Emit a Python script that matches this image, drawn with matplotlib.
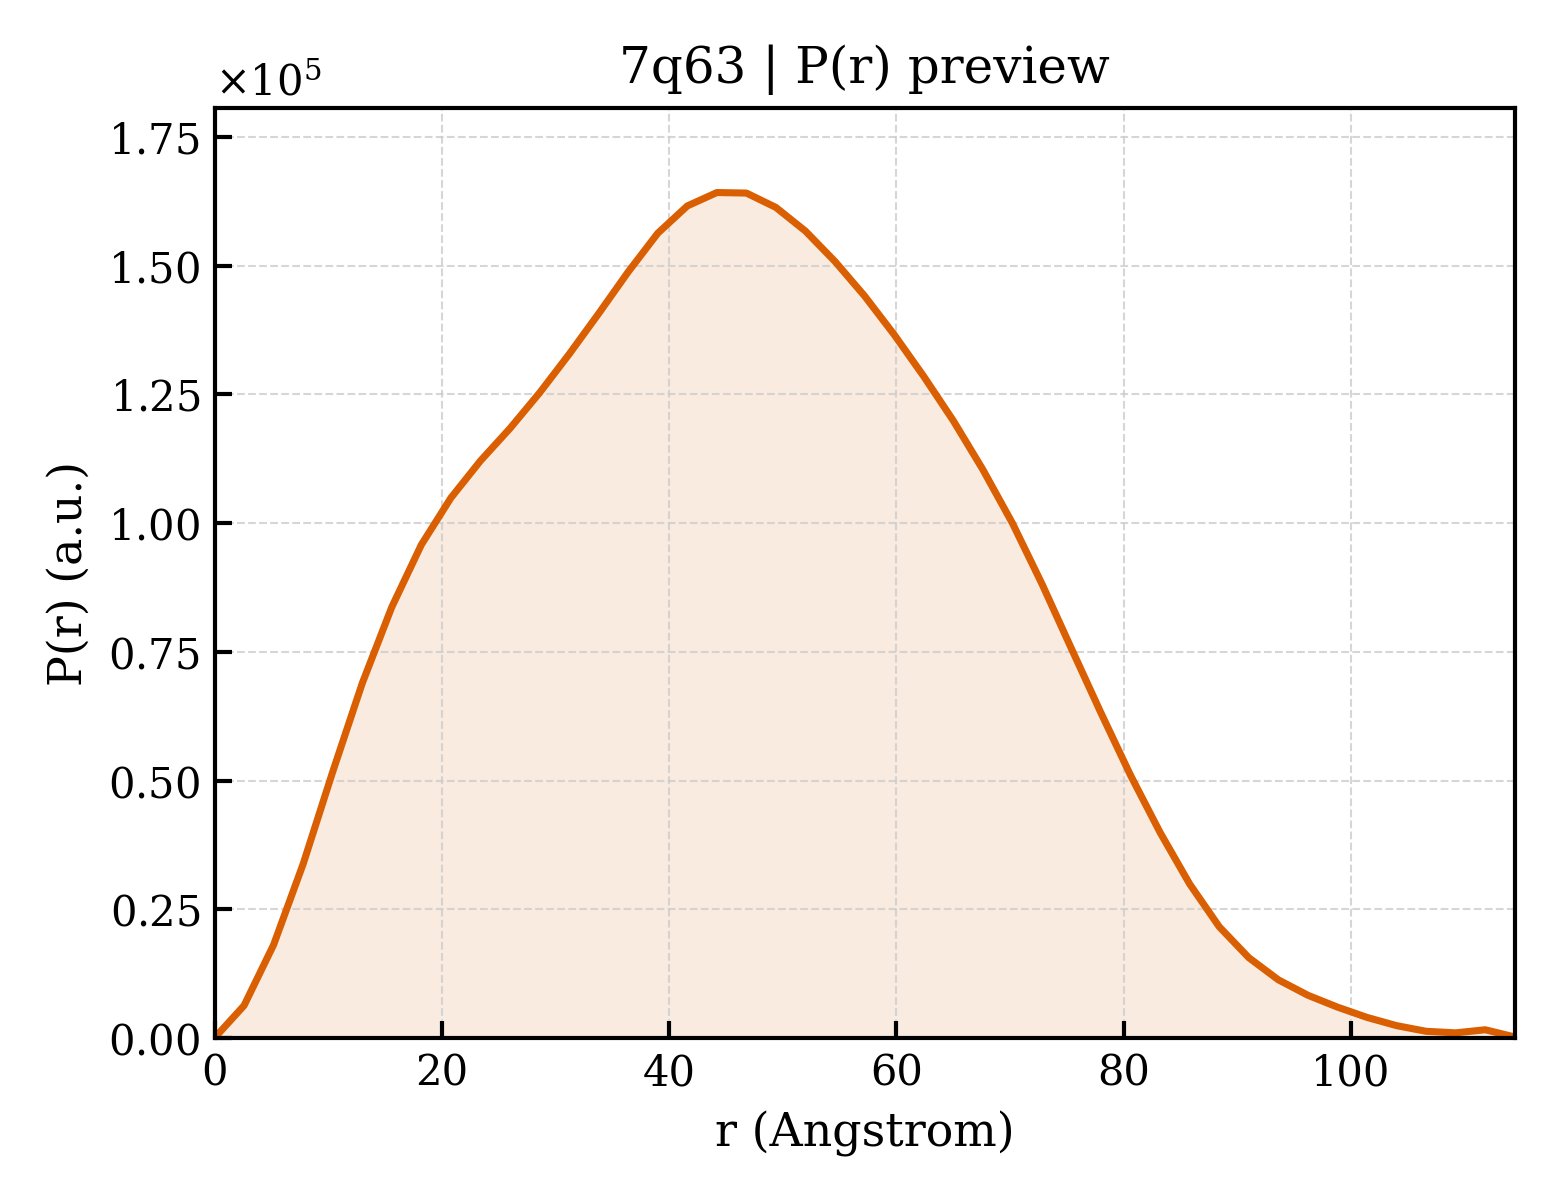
import matplotlib

matplotlib.use("Agg")
import matplotlib.pyplot as plt
from matplotlib.ticker import MultipleLocator, ScalarFormatter

# P(r) preview, 7q63
r = [
    0.0, 2.6, 5.2, 7.8, 10.4, 13.0, 15.6, 18.2, 20.8, 23.4, 26.0, 28.6,
    31.2, 33.8, 36.4, 39.0, 41.6, 44.2, 46.8, 49.4, 52.0, 54.6, 57.2, 59.8,
    62.4, 65.0, 67.6, 70.2, 72.8, 75.4, 78.0, 80.6, 83.2, 85.8, 88.4, 91.0,
    93.6, 96.2, 98.8, 101.4, 104.0, 106.6, 109.2, 111.8, 114.4,
]
pr_e5 = [
    0.000, 0.063, 0.181, 0.338, 0.517, 0.689, 0.837, 0.958, 1.049, 1.121,
    1.184, 1.253, 1.328, 1.407, 1.488, 1.563, 1.616, 1.642, 1.641, 1.613,
    1.567, 1.508, 1.441, 1.366, 1.285, 1.199, 1.104, 1.000, 0.882, 0.756,
    0.631, 0.510, 0.399, 0.299, 0.216, 0.156, 0.113, 0.083, 0.060, 0.040,
    0.024, 0.013, 0.010, 0.016, 0.002,
]
pr = [v * 1e5 for v in pr_e5]

COLOR = "#d95f02"

plt.rcParams["font.family"] = "DejaVu Serif"
plt.rcParams["mathtext.fontset"] = "dejavuserif"

fig, ax = plt.subplots(figsize=(5.2, 4.0), dpi=300)
fig.subplots_adjust(left=0.1375, right=0.971, bottom=0.135, top=0.91)

ax.fill_between(r, pr, 0, color=COLOR, alpha=0.12, lw=0)
ax.plot(r, pr, color=COLOR, lw=1.7)

ax.set_xlim(0, max(r))
ax.set_ylim(0, max(pr) * 1.1)
ax.yaxis.set_major_locator(MultipleLocator(25000))
fmt = ScalarFormatter(useMathText=True)
fmt.set_powerlimits((0, 0))
ax.yaxis.set_major_formatter(fmt)
ax.yaxis.get_offset_text().set_fontsize(10)

ax.tick_params(direction="in", length=4, width=1.0, labelsize=10)
for s in ax.spines.values():
    s.set_linewidth(1.0)
ax.grid(True, ls="--", lw=0.5, color="#cccccc", alpha=0.8)

ax.set_xlabel("r (Angstrom)", fontsize=11)
ax.set_ylabel("P(r) (a.u.)", fontsize=11)
ax.set_title("7q63 | P(r) preview", fontsize=12)

fig.savefig("out.png", dpi=300)
